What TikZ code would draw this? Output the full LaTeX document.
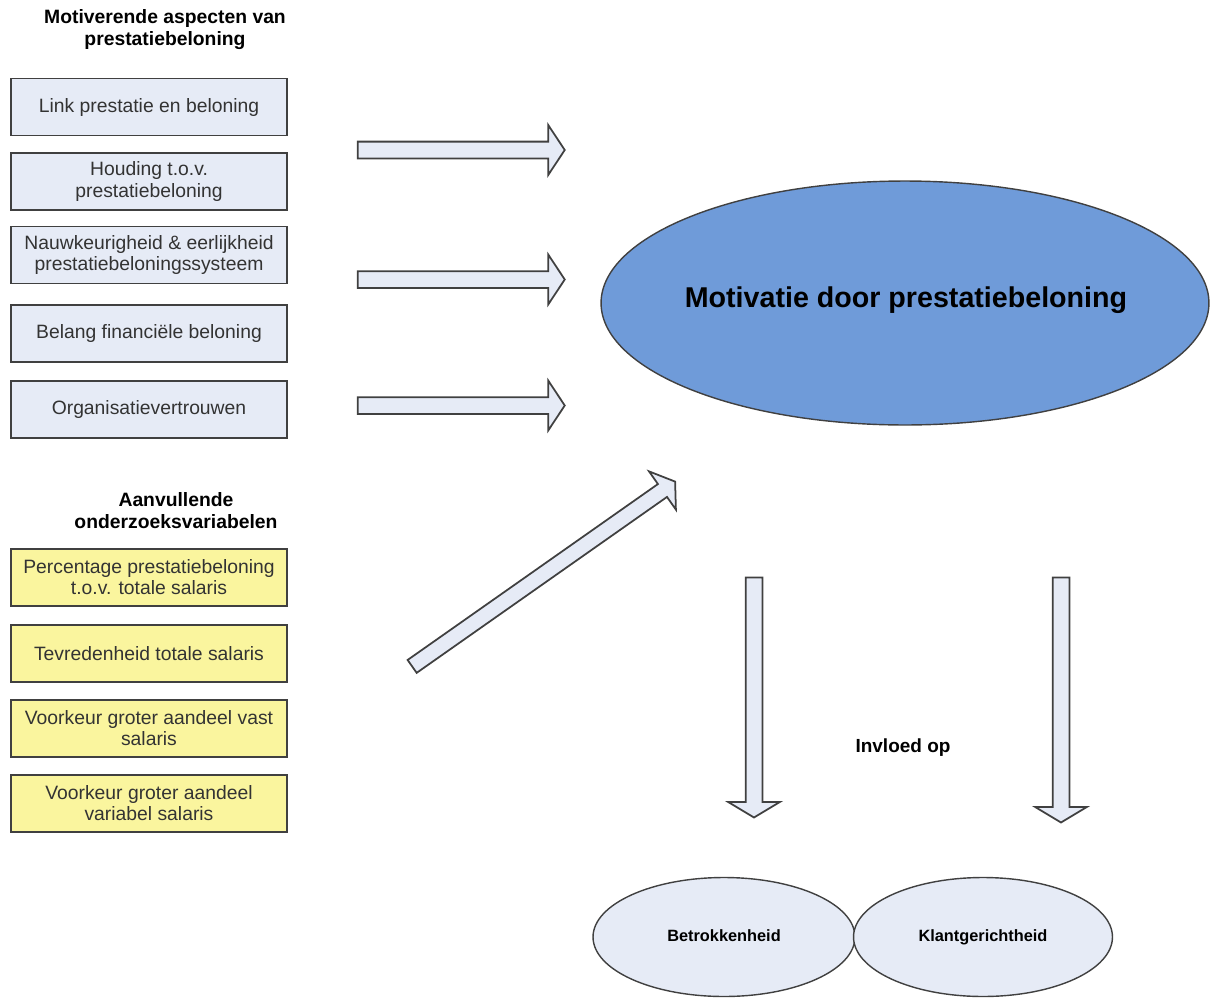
\documentclass[tikz,border=0pt]{standalone}
\usepackage{fontspec}
\setmainfont{Liberation Sans}
\usetikzlibrary{shapes.geometric,shapes.arrows}
\definecolor{boxblue}{HTML}{E6EBF6}
\definecolor{boxyellow}{HTML}{FAF59E}
\definecolor{mainblue}{HTML}{6F9BD9}
\definecolor{edgegray}{HTML}{404040}
\tikzset{%
  aspect/.style={rectangle, draw=edgegray, line width=1pt, minimum width=5.52cm,
    minimum height=1.14cm, inner sep=2pt, align=center, text=black!80,
    font=\fontsize{11}{12}\selectfont},
  bluebox/.style={aspect, fill=boxblue},
  yellowbox/.style={aspect, fill=boxyellow},
  header/.style={align=center, font=\fontsize{11}{12.5}\selectfont\bfseries},
  blockarrow/.style={single arrow, draw=edgegray, line width=1pt, fill=boxblue,
    inner xsep=0pt, inner ysep=0.15cm, single arrow head extend=0.33cm,
    single arrow head indent=0pt, single arrow tip angle=113},
  bubble/.style={ellipse, draw=edgegray, line width=0.8pt, fill=boxblue, inner sep=0pt,
    text height=7pt, text depth=2pt, font=\fontsize{9.3}{11}\selectfont\bfseries}
}
\begin{document}
\begin{tikzpicture}[x=0.02cm, y=-0.02cm]
    \useasboundingbox (0,0) rectangle (1211,998);
    % linkerkolom
    \node[header] (kop1) at (165,30) {Motiverende aspecten van\\prestatiebeloning};
    \node[bluebox] (link) at (149,107) {Link prestatie en beloning};
    \node[bluebox] (houding) at (149,181.5) {Houding t.o.v.\\prestatiebeloning};
    \node[bluebox] (nauwk) at (149,255) {Nauwkeurigheid \& eerlijkheid\\prestatiebeloningssysteem};
    \node[bluebox] (belang) at (149,333.5) {Belang financiële beloning};
    \node[bluebox] (vertrouwen) at (149,409.5) {Organisatievertrouwen};

    \node[header] (kop2) at (176,511) {Aanvullende\\onderzoeksvariabelen};
    \node[yellowbox] (perc) at (149,577.5) {Percentage prestatiebeloning\\t.o.v. totale salaris};
    \node[yellowbox] (tevr) at (149,653.5) {Tevredenheid totale salaris};
    \node[yellowbox] (vast) at (149,728.5) {Voorkeur groter aandeel vast\\salaris};
    \node[yellowbox] (variabel) at (149,803.5) {Voorkeur groter aandeel\\variabel salaris};

    % pijlen
    \node[blockarrow, minimum height=4.14cm] (pijl1) at (458.5,150) {};
    \node[blockarrow, minimum height=4.14cm] (pijl2) at (458.5,279.5) {};
    \node[blockarrow, minimum height=4.14cm] (pijl3) at (458.5,405.5) {};
    \node[blockarrow, minimum height=6.43cm, inner ysep=0.14cm,
      single arrow head extend=0.31cm, rotate=35.1] (pijl4) at (541.5,575.5) {};
    \node[blockarrow, minimum height=4.8cm, single arrow head extend=0.35cm,
      single arrow tip angle=118, rotate=-90] (pijl5) at (754,695) {};
    \node[blockarrow, minimum height=4.9cm, single arrow head extend=0.35cm,
      single arrow tip angle=118, rotate=-90] (pijl6) at (1061,697.5) {};

    % rechterkant
    \node[ellipse, draw=edgegray, line width=0.8pt, fill=mainblue, inner sep=0pt,
      minimum width=12.16cm, minimum height=4.88cm] (motivatie) at (905,303) {};
    \node[font=\fontsize{16.3}{18}\selectfont\bfseries] (motlabel) at (906,300) {Motivatie door prestatiebeloning};
    \node[font=\fontsize{10.8}{12}\selectfont\bfseries] (invloed) at (903,748) {Invloed op};
    \node[bubble, minimum width=5.24cm, minimum height=2.38cm] (betrokken) at (724,937) {Betrokkenheid};
    \node[bubble, minimum width=5.18cm, minimum height=2.38cm] (klant) at (983,937) {Klantgerichtheid};
\end{tikzpicture}
\end{document}
